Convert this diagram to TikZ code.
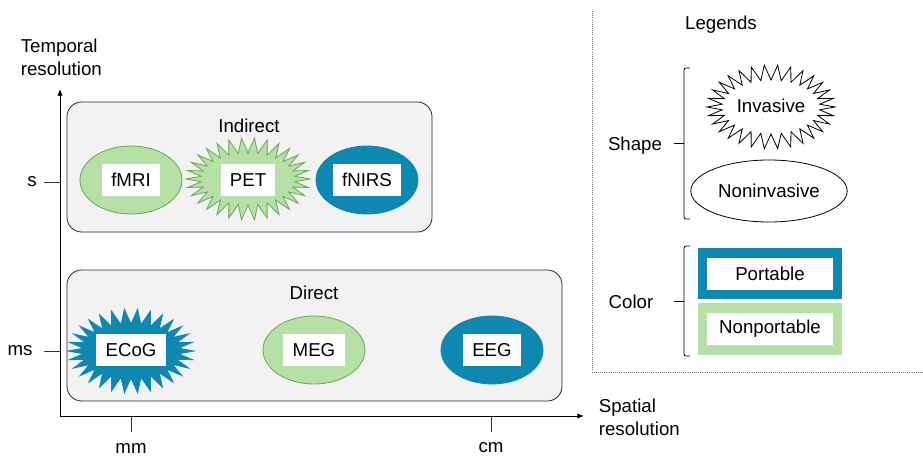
\documentclass[tikz,border=0pt]{standalone}
\usepackage{fontspec}
\setmainfont{Liberation Sans}
\usepackage{tikz}
\usetikzlibrary{
    arrows.meta,
    positioning,
    calc,
    shapes.geometric
}

\definecolor{portblue}{RGB}{14,136,176}
\definecolor{nonpgreen}{RGB}{183,224,167}
\definecolor{nonpedge}{RGB}{98,170,76}
\definecolor{groupgray}{RGB}{242,242,242}

% spiky outline: centre x, centre y, radius x, radius y, style
\newcommand{\spikes}[5]{%
    \filldraw[#5] plot[variable=\k,samples at={0,...,59}]
        ({#1+(#3-15*mod(\k,2))*cos(\k*6)},
         {#2+(#4-15*mod(\k,2))*sin(\k*6)}) -- cycle;}

% square bracket with a middle tick: x, top y, bottom y
\newcommand{\legbracket}[3]{%
    \draw[rounded corners=1.5pt] (#1,#2) -- ++(-6,0) -- ($(#1,#3)+(-6,0)$) -- (#1,#3);
    \draw ($(#1,#2)!0.5!(#1,#3)+(-6,0)$) -- ++(-10,0);}

\begin{document}
\begin{tikzpicture}[
    x=0.75pt,y=-0.75pt,
    font=\fontsize{14}{17}\selectfont,
    line width=0.6pt,
    group/.style={draw=black!85,fill=groupgray,rounded corners=11pt},
    meas/.style={ellipse,minimum width=76.5pt,minimum height=51pt},
    nonport/.style={meas,draw=nonpedge,fill=nonpgreen},
    port/.style={meas,draw=portblue,fill=portblue},
    tag/.style={fill=white,inner xsep=7pt,minimum height=24.5pt},
    axis/.style={-{Latex[length=5pt,width=4pt]},black},
    tick/.style={black!80}
]
    \useasboundingbox (0,0) rectangle (923,456);

    % Axes with tick marks.
    \coordinate (origin) at (60,416);
    \coordinate (ytop) at (60,89);
    \coordinate (xend) at (584,416);
    \draw[axis] (origin) -- (ytop);
    \draw[axis] (origin) -- (xend);
    \node[anchor=west,align=left] (ylab) at (16,57) {Temporal\\resolution};
    \node[anchor=west,align=left] (xlab) at (594,417) {Spatial\\resolution};

    \foreach \y/\lab/\lx in {182/s/32,351/ms/20} {
        \draw[tick] (44,\y) -- (60,\y);
        \node (t-\lab) at (\lx,\y) {\lab};
    }
    \foreach \x/\lab in {131/mm,491/cm} {
        \draw[tick] (\x,416) -- (\x,432);
        \node (t-\lab) at (\x,448) {\lab};
    }

    % Indirect and direct groups.
    \node[group,minimum width=273.75pt,minimum height=97.5pt] (indirect) at (249.5,167) {};
    \node (indlab) at (249,126) {Indirect};
    \node[group,minimum width=371.25pt,minimum height=98.25pt] (direct) at (314.5,335.5) {};
    \node (dirlab) at (314,293) {Direct};

    \node[nonport] (fmri) at (131,180) {};
    \spikes{248}{179}{62}{41}{draw=nonpedge,fill=nonpgreen}
    \node[port] (fnirs) at (367,180) {};
    \spikes{131}{351}{63}{42}{draw=portblue,fill=portblue}
    \node[nonport] (meg) at (314,350) {};
    \node[port] (eeg) at (492,350) {};

    \node[tag] (fmrilab) at (131,180) {fMRI};
    \node[tag] (petlab) at (248,180) {PET};
    \node[tag] (fnirslab) at (367,180) {fNIRS};
    \node[tag] (ecoglab) at (131,350) {ECoG};
    \node[tag] (meglab) at (314,350) {MEG};
    \node[tag] (eeglab) at (492,350) {EEG};

    % Legend panel.
    \draw[black!55,densely dotted] (592,11) -- (592,372) -- (923,372);
    \node (legtitle) at (721,25) {Legends};

    \node (shapelab) at (635,146) {Shape};
    \legbracket{690}{68}{219}
    \spikes{771}{107}{64}{42}{draw=black,fill=white}
    \node (invlab) at (771,106) {Invasive};
    \node[ellipse,draw=black,fill=white,minimum width=109.5pt,minimum height=46.5pt] (noninv) at (769,191) {Noninvasive};

    \node (colorlab) at (631,302) {Color};
    \legbracket{690}{246}{356}
    \node[fill=portblue,minimum width=108pt,minimum height=38.25pt] (portbox) at (770,273.5) {};
    \node[fill=white,minimum width=94.5pt,minimum height=24pt] (portlab) at (770,274) {Portable};
    \node[fill=nonpgreen,minimum width=108pt,minimum height=39pt] (nonpbox) at (770,329) {};
    \node[fill=white,minimum width=94.5pt,minimum height=24pt] (nonplab) at (770,329) {Nonportable};
\end{tikzpicture}
\end{document}
